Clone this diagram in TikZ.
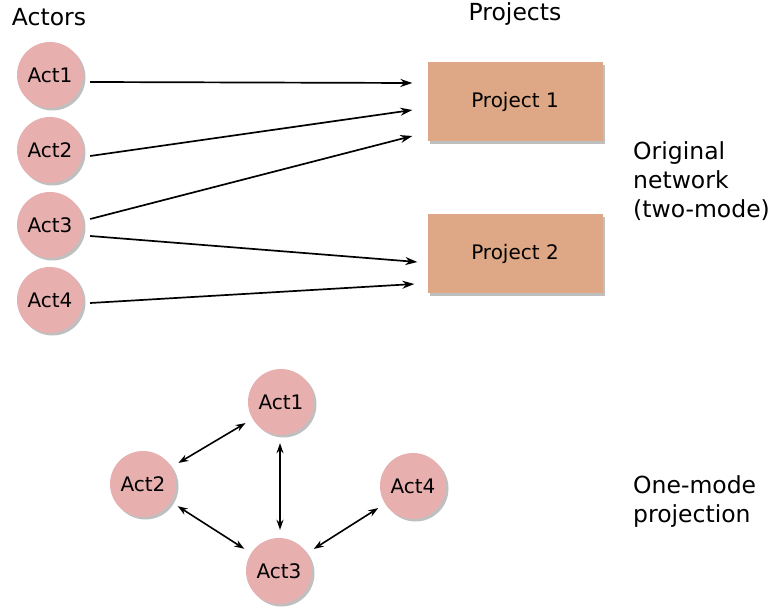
\documentclass[tikz,border=0pt]{standalone}
\usepackage{fontspec}
\setmainfont{DejaVu Sans}
\usetikzlibrary{arrows.meta,shadows}
\definecolor{actfill}{HTML}{E8AFAF}
\definecolor{projfill}{HTML}{DEA886}
\tikzset{
  actor/.style={circle, fill=actfill, minimum size=66pt, inner sep=0pt,
    font=\fontsize{20}{22}\selectfont,
    drop shadow={shadow xshift=2.5pt, shadow yshift=-2.5pt, fill=black, opacity=0.25}},
  proj/.style={rectangle, fill=projfill, minimum width=175pt, minimum height=79pt,
    font=\fontsize{20}{22}\selectfont,
    drop shadow={shadow xshift=2.5pt, shadow yshift=-2.5pt, fill=black, opacity=0.25}},
  heading/.style={font=\fontsize{23.5}{29}\selectfont},
  sidelabel/.style={font=\fontsize{23.5}{29}\selectfont, align=left, anchor=west, inner sep=0pt},
  link/.style={line width=1.7pt, -{Stealth[length=12pt,width=8pt]}},
  tie/.style={line width=1.6pt, {Stealth[length=10pt,width=7pt]}-{Stealth[length=10pt,width=7pt]}, shorten <=8pt, shorten >=8pt},
}
\begin{document}
\begin{tikzpicture}[x=1pt,y=1pt]
\useasboundingbox (0,0) rectangle (773,-609);
% headings
\node[heading] (hact) at (49,-17) {Actors};
\node[heading] (hproj) at (515,-14) {Projects};
% top actors
\node[actor] (a1) at (50,-75) {Act1};
\node[actor] (a2) at (50,-150) {Act2};
\node[actor] (a3) at (50,-225) {Act3};
\node[actor] (a4) at (50,-300) {Act4};
% projects
\node[proj] (p1) at (515,-102) {Project 1};
\node[proj] (p2) at (515,-254) {Project 2};
% two-mode links
\draw[link] ([xshift=7pt,yshift=-7pt]a1.east) -- ([xshift=-15pt,yshift=19pt]p1.west);
\draw[link] ([xshift=7pt,yshift=-6pt]a2.east) -- ([xshift=-15pt,yshift=-8pt]p1.west);
\draw[link] ([xshift=7pt,yshift=6pt]a3.east) -- ([xshift=-15pt,yshift=-34pt]p1.west);
\draw[link] ([xshift=7pt,yshift=-11pt]a3.east) -- ([xshift=-10pt,yshift=-8pt]p2.west);
\draw[link] ([xshift=7pt,yshift=-3pt]a4.east) -- ([xshift=-13pt,yshift=-30pt]p2.west);
% side labels
\node[sidelabel] (lorig) at (633,-181) {Original\\network\\(two-mode)};
\node[sidelabel] (lone) at (633,-502) {One-mode\\projection};
% one-mode projection
\node[actor] (b1) at (281,-402) {Act1};
\node[actor] (b2) at (143,-484) {Act2};
\node[actor] (b3) at (279,-571) {Act3};
\node[actor] (b4) at (413,-486) {Act4};
\draw[tie] (b2) -- (b1);
\draw[tie] ([xshift=-1pt]b1.south) -- ([xshift=1pt]b3.north);
\draw[tie] (b2) -- (b3);
\draw[tie] (b3) -- (b4);
\end{tikzpicture}
\end{document}
